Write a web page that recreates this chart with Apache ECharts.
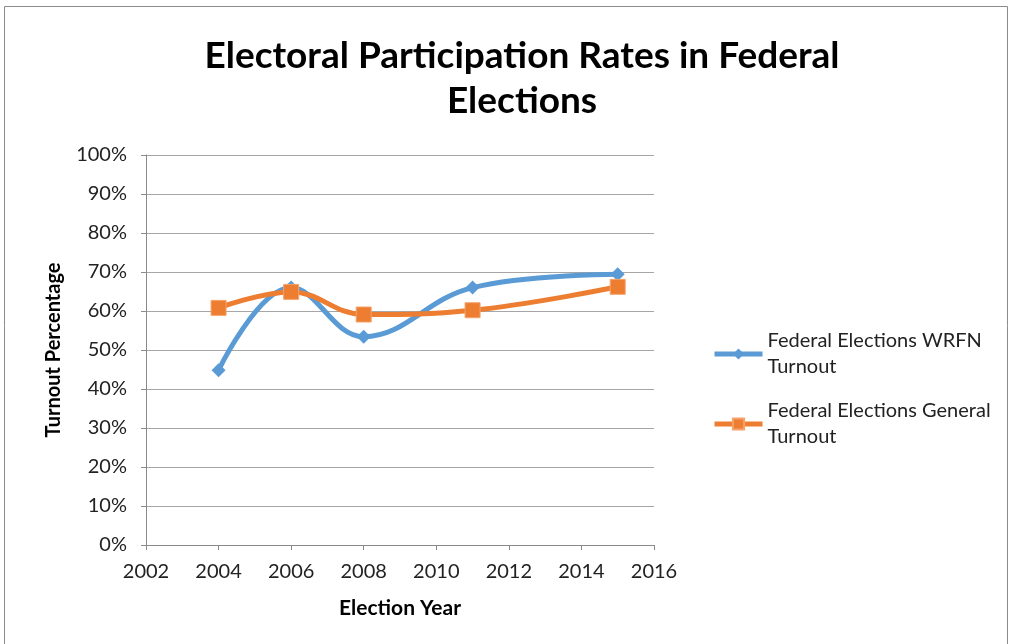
<!DOCTYPE html>
<html>
<head>
<meta charset="utf-8">
<title>Electoral Participation Rates in Federal Elections</title>
<script src="https://cdn.jsdelivr.net/npm/echarts@6/dist/echarts.min.js"></script>
<style>
  html, body { margin: 0; padding: 0; background: #ffffff; }
  #chart { width: 1014px; height: 644px; }
</style>
</head>
<body>
<div id="chart"></div>
<script>
// Election years and turnout (percent) for each series
const years = [2004, 2006, 2008, 2011, 2015];
const wrfnTurnout = [44.8, 66.0, 53.4, 66.0, 69.4];
const generalTurnout = [60.8, 64.9, 59.1, 60.2, 66.2];

const seriesNames = ['Federal Elections WRFN Turnout', 'Federal Elections General Turnout'];
const legendLabels = {
  'Federal Elections WRFN Turnout': 'Federal Elections WRFN\nTurnout',
  'Federal Elections General Turnout': 'Federal Elections General\nTurnout'
};

const bodyFont = 'Lato, "Open Sans", sans-serif';

const pairs = (xs, ys) => xs.map((x, i) => [x, ys[i]]);

const chart = echarts.init(document.getElementById('chart'), null, { renderer: 'canvas' });

chart.setOption({
  backgroundColor: '#ffffff',
  animation: false,
  title: {
    text: 'Electoral Participation Rates in Federal\nElections',
    left: 517,
    top: 29,
    textAlign: 'center',
    textStyle: {
      fontFamily: bodyFont,
      fontWeight: 'bold',
      fontSize: 37,
      lineHeight: 45,
      color: '#000000'
    }
  },
  graphic: [{
    type: 'rect',
    shape: { x: 4.5, y: 6.5, width: 1003, height: 660 },
    style: { fill: 'none', stroke: '#8c8c8c', lineWidth: 1 },
    silent: true
  }],
  legend: {
    orient: 'vertical',
    left: 707,
    top: 323,
    itemGap: 18,
    itemWidth: 48,
    itemHeight: 14,
    data: seriesNames,
    formatter: name => legendLabels[name],
    lineStyle: { width: 5 },
    textStyle: {
      fontFamily: bodyFont,
      fontSize: 20,
      lineHeight: 26,
      color: '#222222'
    }
  },
  grid: {
    left: 146,
    right: 360,
    top: 155,
    bottom: 99
  },
  xAxis: {
    type: 'value',
    min: 2002,
    max: 2016,
    interval: 2,
    name: 'Election Year',
    nameLocation: 'middle',
    nameGap: 53,
    nameTextStyle: {
      fontFamily: bodyFont,
      fontWeight: 'bold',
      fontSize: 21,
      color: '#000000'
    },
    axisLine: { lineStyle: { color: '#8a8a8a', width: 1 } },
    axisTick: { show: true, length: 5, lineStyle: { color: '#8a8a8a' } },
    axisLabel: {
      margin: 17,
      formatter: v => String(v),
      fontFamily: bodyFont,
      fontSize: 20,
      color: '#222222'
    },
    splitLine: { show: false }
  },
  yAxis: {
    type: 'value',
    min: 0,
    max: 100,
    interval: 10,
    name: 'Turnout Percentage',
    nameLocation: 'middle',
    nameGap: 82,
    nameRotate: 90,
    nameTextStyle: {
      fontFamily: bodyFont,
      fontWeight: 'bold',
      fontSize: 20,
      color: '#000000'
    },
    axisLine: { show: true, lineStyle: { color: '#8a8a8a', width: 1 } },
    axisTick: { show: true, length: 5, lineStyle: { color: '#8a8a8a' } },
    axisLabel: {
      margin: 19,
      formatter: '{value}%',
      fontFamily: bodyFont,
      fontSize: 20,
      color: '#222222'
    },
    splitLine: { show: true, lineStyle: { color: '#a6a6a6', width: 1 } }
  },
  series: [
    {
      name: seriesNames[0],
      type: 'line',
      data: pairs(years, wrfnTurnout),
      smooth: 0.4,
      symbol: 'diamond',
      symbolSize: 14,
      lineStyle: { color: '#5b9bd5', width: 5 },
      itemStyle: { color: '#5b9bd5' },
      z: 2
    },
    {
      name: seriesNames[1],
      type: 'line',
      data: pairs(years, generalTurnout),
      smooth: 0.4,
      symbol: 'rect',
      symbolSize: 15,
      lineStyle: { color: '#ed7d31', width: 5 },
      itemStyle: { color: '#ed7d31', borderColor: '#f5a36b', borderWidth: 1 },
      z: 3
    }
  ]
});
</script>
</body>
</html>
